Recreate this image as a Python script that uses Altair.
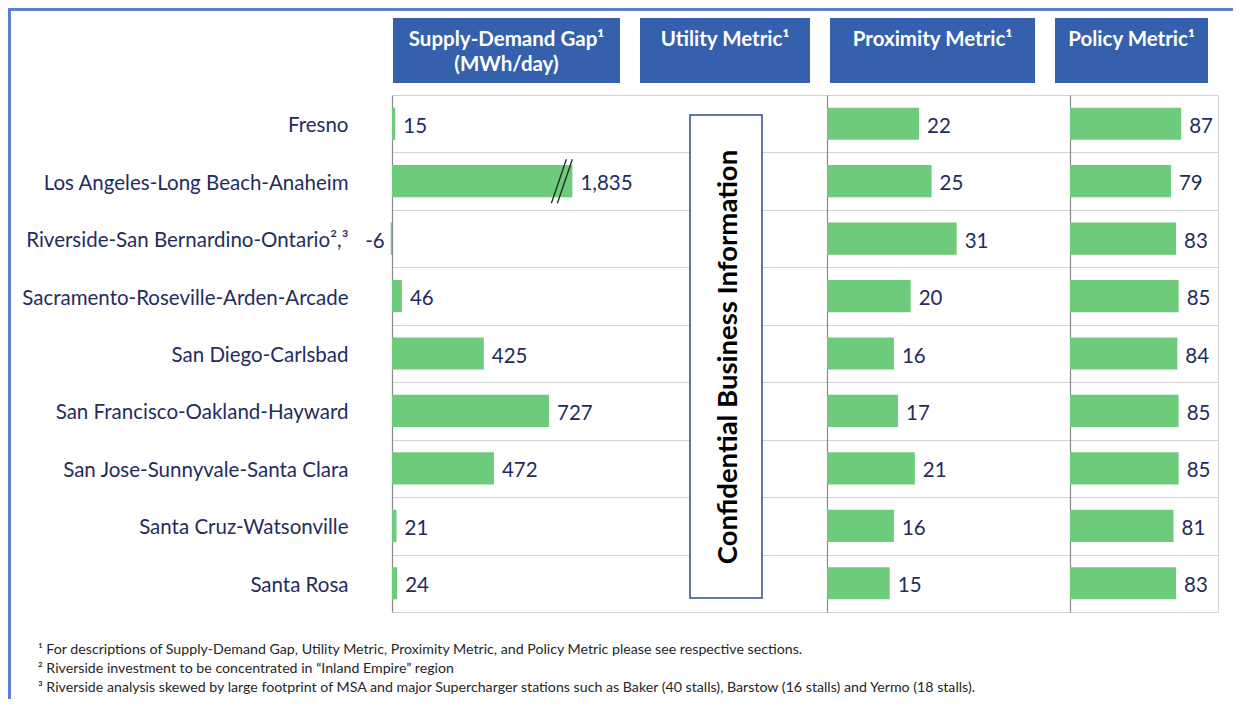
import altair as alt
import pandas as pd

# ---------------- data ----------------
cities = [
    "Fresno",
    "Los Angeles-Long Beach-Anaheim",
    "Riverside-San Bernardino-Ontario²,³",
    "Sacramento-Roseville-Arden-Arcade",
    "San Diego-Carlsbad",
    "San Francisco-Oakland-Hayward",
    "San Jose-Sunnyvale-Santa Clara",
    "Santa Cruz-Watsonville",
    "Santa Rosa",
]
supply_gap = [15, 1835, -6, 46, 425, 727, 472, 21, 24]
proximity = [22, 25, 31, 20, 16, 17, 21, 16, 15]
policy = [87, 79, 83, 85, 84, 85, 85, 81, 83]
headers = ["Supply-Demand Gap¹\n(MWh/day)", "Utility Metric¹", "Proximity Metric¹", "Policy Metric¹"]
confidential = ["Confidential Business Information"]
footnotes = [
    "¹ For descriptions of Supply-Demand Gap, Utility Metric, Proximity Metric, and Policy Metric please see respective sections.",
    "² Riverside investment to be concentrated in \u201cInland Empire\u201d region",
    "³ Riverside analysis skewed by large footprint of MSA and major Supercharger stations such as Baker (40 stalls), Barstow (16 stalls) and Yermo (18 stalls).",
]
SUPPLY_BREAK = 835  # supply bars longer than this are drawn cut (axis break)

# ---------------- styles ----------------
FONT = "Lato"
GREEN = "#6ECB7B"
NAVY = "#1F2D5E"
HEADER_BLUE = "#3560AE"
FRAME_BLUE = "#5B80D2"
GRID = "#D3D3D3"
AXIS_LINE = "#8A8A8A"
LABEL_SIZE = 20.5
VAL_DY = 3

df = pd.DataFrame({"city": cities, "supply": supply_gap, "prox": proximity, "policy": policy})
ROW_H = 517


def spacer(w, h, fill=None):
    view = alt.ViewBackground(stroke=None, fill=fill) if fill else alt.ViewBackground(stroke=None)
    return alt.Chart(pd.DataFrame({"s": [0]})).mark_point(
        size=0, opacity=0, strokeWidth=0
    ).encode(x=alt.value(0), y=alt.value(0)).properties(width=w, height=h, view=view)


def yenc(labels=False, domain=True):
    return alt.Y(
        "city:N",
        scale=alt.Scale(domain=cities, paddingInner=0, paddingOuter=0),
        axis=alt.Axis(
            title=None, labels=labels, ticks=False, domain=domain, domainColor=AXIS_LINE,
            domainWidth=1.2, grid=True, gridColor=GRID, gridWidth=1.2, tickBand="extent",
            labelPadding=44, labelFont=FONT, labelFontSize=LABEL_SIZE, labelColor=NAVY,
            labelLimit=0, labelOffset=2,
        ),
    )


# ---------------- headers ----------------
header_widths = [227, 170, 205, 153]
header_charts = []
for h, w in zip(headers, header_widths):
    header_charts.append(
        alt.Chart(pd.DataFrame({"t": [h]})).mark_text(
            font=FONT, fontSize=20.5, fontWeight="bold", color="white", baseline="top",
            lineBreak="\n", lineHeight=25, align="center",
        ).encode(x=alt.value(w / 2), y=alt.value(12), text="t:N").properties(
            width=w, height=65, view=alt.ViewBackground(fill=HEADER_BLUE, stroke=None)
        )
    )
header_row = alt.hconcat(spacer(362, 65), *header_charts, spacing=20, bounds="flush")

# ---------------- supply panel ----------------
SUP_W = 248
sup_base = alt.Chart(df).transform_calculate(
    shown=f"min(datum.supply, {SUPPLY_BREAK})",
    lbl="replace(format(datum.supply, ','), '\u2212', '-')",
)
xs = alt.X("shown:Q", scale=alt.Scale(domain=[0, 1148]), axis=None)
sup_bars = sup_base.mark_bar(color=GREEN, height=alt.RelativeBandSize(0.56)).encode(
    x=xs, y=yenc(labels=True)
)
sup_pos = sup_base.transform_filter("datum.supply >= 0").mark_text(
    align="left", dx=8, dy=VAL_DY, font=FONT, fontSize=LABEL_SIZE, color=NAVY, baseline="middle"
).encode(x=xs, y=alt.Y("city:N"), text="lbl:N")
sup_neg = sup_base.transform_filter("datum.supply < 0").mark_text(
    align="right", dx=-6, dy=VAL_DY, font=FONT, fontSize=LABEL_SIZE, color=NAVY, baseline="middle"
).encode(x=xs, y=alt.Y("city:N"), text="lbl:N")
brk = sup_base.transform_filter(f"datum.supply > {SUPPLY_BREAK}")
slash1 = brk.mark_rule(color="#222222", strokeWidth=1.3, xOffset=-21, x2Offset=-6,
                       yOffset=22, y2Offset=-22).encode(
    x=xs, x2=alt.X2("shown:Q"), y=alt.Y("city:N"), y2=alt.Y2("city:N"))
slash2 = brk.mark_rule(color="#222222", strokeWidth=1.3, xOffset=-15, x2Offset=0,
                       yOffset=22, y2Offset=-22).encode(
    x=xs, x2=alt.X2("shown:Q"), y=alt.Y("city:N"), y2=alt.Y2("city:N"))
supply_panel = alt.layer(sup_bars, sup_pos, sup_neg, slash1, slash2).properties(
    width=SUP_W, height=ROW_H, view=alt.ViewBackground(stroke=None)
)

# ---------------- utility (confidential) panel ----------------
UT_W = 187
ut_grid = alt.Chart(df).mark_point(size=0, opacity=0, strokeWidth=0).encode(y=yenc(domain=False))
ut_box = alt.Chart(pd.DataFrame({"t": confidential})).mark_rect(
    fill="white", stroke="#2F4C8F", strokeWidth=1.5
).encode(x=alt.value(50), x2=alt.value(122), y=alt.value(20), y2=alt.value(503))
ut_text = alt.Chart(pd.DataFrame({"t": confidential})).mark_text(
    angle=270, font=FONT, fontSize=27.5, fontWeight="bold", color="black",
    align="center", baseline="middle"
).encode(x=alt.value(89), y=alt.value(262), text="t:N")
utility_panel = alt.layer(ut_grid, ut_box, ut_text).properties(
    width=UT_W, height=ROW_H, view=alt.ViewBackground(stroke=None)
)


# ---------------- proximity / policy panels ----------------
def metric_panel(field, width, xmax, stroke):
    xe = alt.X(f"{field}:Q", scale=alt.Scale(domain=[0, xmax]), axis=None)
    base = alt.Chart(df)
    bars = base.mark_bar(color=GREEN, height=alt.RelativeBandSize(0.56)).encode(x=xe, y=yenc())
    txt = base.mark_text(align="left", dx=8, dy=VAL_DY, font=FONT, fontSize=LABEL_SIZE,
                         color=NAVY, baseline="middle").encode(x=xe, y="city:N", text=f"{field}:Q")
    return alt.layer(bars, txt).properties(
        width=width, height=ROW_H, view=alt.ViewBackground(stroke=stroke)
    )


prox_panel = metric_panel("prox", 243, 58.1, None)
policy_panel = metric_panel("policy", 148, 115.8, GRID)

table_row = alt.hconcat(spacer(381, ROW_H), supply_panel, utility_panel, prox_panel,
                        policy_panel, spacing=0, bounds="flush")

# ---------------- footnotes ----------------
fn = alt.Chart(pd.DataFrame({"t": footnotes, "i": [0, 1, 2]})).mark_text(
    align="left", baseline="middle", font=FONT, fontSize=14.2, color="#262626"
).encode(
    x=alt.value(0),
    y=alt.Y("i:O", axis=None, scale=alt.Scale(paddingInner=0, paddingOuter=0)),
    text="t:N",
).properties(width=1000, height=57, view=alt.ViewBackground(stroke=None))
fn_row = alt.hconcat(spacer(27, 57), fn, spacing=0, bounds="flush")

content = alt.vconcat(
    spacer(1, 7), header_row, spacer(1, 2), table_row, spacer(1, 27), fn_row,
    spacing=0, bounds="full",
)

chart = alt.vconcat(
    spacer(1225, 3, FRAME_BLUE),
    alt.hconcat(spacer(3, 688, FRAME_BLUE), content, spacing=0, bounds="full"),
    spacing=0, bounds="full",
).properties(padding=0, background="white").configure_view(stroke=None)

chart.save("out.html", embed_options={"renderer": "svg", "actions": False})
